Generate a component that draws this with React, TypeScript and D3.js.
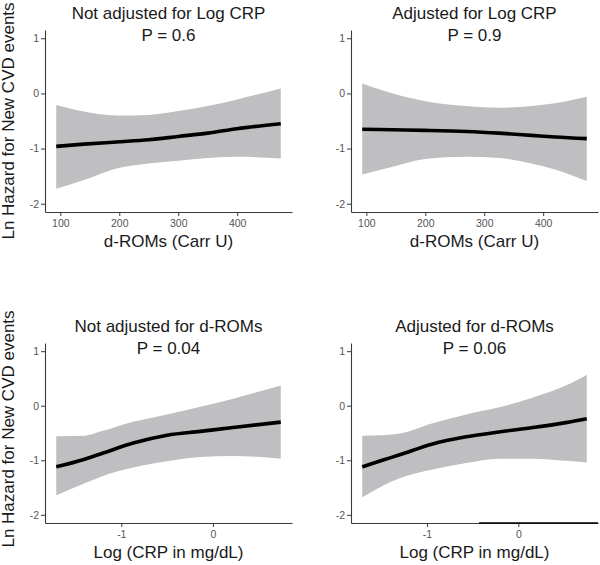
import React, { useEffect, useRef } from 'react';
import * as d3 from 'd3';

// d-ROMs panels
const dromsX1 = [93, 140, 195, 250, 300, 350, 400, 474];
const dromsFit1 = [-0.96, -0.92, -0.88, -0.84, -0.78, -0.72, -0.64, -0.55];
const dromsUpper1 = [-0.21, -0.33, -0.4, -0.39, -0.32, -0.23, -0.11, 0.09];
const dromsLower1 = [-1.73, -1.57, -1.36, -1.27, -1.22, -1.17, -1.15, -1.18];

const dromsX2 = [93, 145, 200, 270, 325, 380, 420, 474];
const dromsFit2 = [-0.65, -0.66, -0.67, -0.69, -0.72, -0.76, -0.79, -0.82];
const dromsUpper2 = [0.18, 0.0, -0.14, -0.23, -0.26, -0.23, -0.18, -0.06];
const dromsLower2 = [-1.47, -1.33, -1.19, -1.15, -1.17, -1.27, -1.38, -1.59];

// Log CRP panels
const crpX3 = [-1.71, -1.4, -1.22, -0.86, -0.5, -0.14, 0.22, 0.74];
const crpFit3 = [-1.12, -0.98, -0.88, -0.68, -0.54, -0.47, -0.4, -0.3];
const crpUpper3 = [-0.56, -0.55, -0.47, -0.29, -0.16, -0.02, 0.13, 0.37];
const crpLower3 = [-1.64, -1.42, -1.3, -1.13, -1.02, -0.94, -0.92, -0.97];

const crpX4 = [-1.71, -1.49, -1.3, -0.94, -0.57, -0.21, 0.16, 0.52, 0.75];
const crpFit4 = [-1.12, -1.0, -0.9, -0.7, -0.57, -0.48, -0.4, -0.31, -0.24];
const crpUpper4 = [-0.55, -0.54, -0.51, -0.32, -0.16, -0.03, 0.15, 0.37, 0.57];
const crpLower4 = [-1.68, -1.47, -1.33, -1.17, -1.05, -0.97, -0.97, -1.01, -1.04];

const dromsTicks = [100, 200, 300, 400];
const crpTicks = [-1, 0];
const yTicks = [-2, -1, 0, 1];
const yLimits = [-2, 1];

const titles = [
  ['Not adjusted for Log CRP', 'P = 0.6'],
  ['Adjusted for Log CRP', 'P = 0.9'],
  ['Not adjusted for d-ROMs', 'P = 0.04'],
  ['Adjusted for d-ROMs', 'P = 0.06'],
];
const xTitles = ['d-ROMs (Carr U)', 'Log (CRP in mg/dL)'];
const yTitle = 'Ln Hazard for New CVD events';

const FONT = 'Liberation Sans, Arial, sans-serif';

const expand = (ext: number[]) => {
  const pad = (ext[1] - ext[0]) * 0.05;
  return [ext[0] - pad, ext[1] + pad];
};

const App = () => {
  const svgRef = useRef<SVGSVGElement>(null);

  useEffect(() => {
    const svg = d3.select(svgRef.current);
    svg.selectAll('*').remove();

    const panels = [
      { x: dromsX1, fit: dromsFit1, up: dromsUpper1, lo: dromsLower1, ticks: dromsTicks, left: 45, right: 292, top: 30, bottom: 212 },
      { x: dromsX2, fit: dromsFit2, up: dromsUpper2, lo: dromsLower2, ticks: dromsTicks, left: 351, right: 598, top: 30, bottom: 212 },
      { x: crpX3, fit: crpFit3, up: crpUpper3, lo: crpLower3, ticks: crpTicks, left: 45, right: 292, top: 343, bottom: 523 },
      { x: crpX4, fit: crpFit4, up: crpUpper4, lo: crpLower4, ticks: crpTicks, left: 351, right: 598, top: 343, bottom: 523 },
    ];

    panels.forEach((p, i) => {
      const xScale = d3.scaleLinear()
        .domain(expand(d3.extent(p.x) as number[]))
        .range([p.left, p.right]);
      const yScale = d3.scaleLinear()
        .domain(expand(yLimits))
        .range([p.bottom, p.top]);

      const rows = p.x.map((x, k) => ({ x, fit: p.fit[k], up: p.up[k], lo: p.lo[k] }));

      const area = d3.area<any>()
        .x(d => xScale(d.x))
        .y0(d => yScale(d.lo))
        .y1(d => yScale(d.up))
        .curve(d3.curveMonotoneX);

      const line = d3.line<any>()
        .x(d => xScale(d.x))
        .y(d => yScale(d.fit))
        .curve(d3.curveMonotoneX);

      svg.append('path')
        .datum(rows)
        .attr('fill', '#bfbfc2')
        .attr('d', area);

      svg.append('path')
        .datum(rows)
        .attr('fill', 'none')
        .attr('stroke', '#000')
        .attr('stroke-width', 3.6)
        .attr('d', line);

      // axes
      const xAxis = svg.append('g')
        .attr('transform', `translate(0,${p.bottom})`)
        .call(d3.axisBottom(xScale).tickValues(p.ticks).tickSize(4).tickSizeOuter(0).tickPadding(3.5).tickFormat(d3.format('d')));
      const yAxis = svg.append('g')
        .attr('transform', `translate(${p.left},0)`)
        .call(d3.axisLeft(yScale).tickValues(yTicks).tickSize(4).tickSizeOuter(0).tickPadding(2).tickFormat(d3.format('d')));

      [xAxis, yAxis].forEach(ax => {
        ax.attr('font-family', FONT).attr('font-size', 10.5);
        ax.select('.domain').attr('stroke', '#3a3a3a').attr('stroke-width', 1.1);
        ax.selectAll('.tick line').attr('stroke', '#3a3a3a').attr('stroke-width', 1);
        ax.selectAll('.tick text').attr('fill', '#555');
      });
      xAxis.selectAll('.tick text').text((d: any) => (d < 0 ? '-' + Math.abs(d) : String(d)));
      yAxis.selectAll('.tick text').text((d: any) => (d < 0 ? '-' + Math.abs(d) : String(d)));

      if (i === 3) {
        // darker stretch of the bottom axis seen in the original
        svg.append('line')
          .attr('x1', xScale(-0.43)).attr('x2', p.right)
          .attr('y1', p.bottom).attr('y2', p.bottom)
          .attr('stroke', '#000').attr('stroke-width', 1.4);
      }

      // titles
      const cx = (p.left + p.right) / 2;
      const t = svg.append('text')
        .attr('text-anchor', 'middle')
        .attr('font-family', FONT)
        .attr('font-size', 17)
        .attr('fill', '#1a1a1a');
      t.append('tspan').attr('x', cx).attr('y', p.top - 11).text(titles[i][0]);
      t.append('tspan').attr('x', cx).attr('y', p.top + 11).text(titles[i][1]);

      svg.append('text')
        .attr('x', cx)
        .attr('y', p.bottom + 35)
        .attr('text-anchor', 'middle')
        .attr('font-family', FONT)
        .attr('font-size', 17)
        .attr('fill', '#1a1a1a')
        .text(xTitles[i < 2 ? 0 : 1]);

      if (i % 2 === 0) {
        const cy = (p.top + p.bottom) / 2 - (i === 2 ? 4 : 0);
        svg.append('text')
          .attr('transform', `translate(14,${cy}) rotate(-90)`)
          .attr('text-anchor', 'middle')
          .attr('font-family', FONT)
          .attr('font-size', 17)
          .attr('fill', '#1a1a1a')
          .text(yTitle);
      }
    });
  }, []);

  return (
    <svg
      ref={svgRef}
      width={600}
      height={565}
      style={{ position: 'absolute', left: 0, top: 0, background: '#fff' }}
    />
  );
};

export default App;
